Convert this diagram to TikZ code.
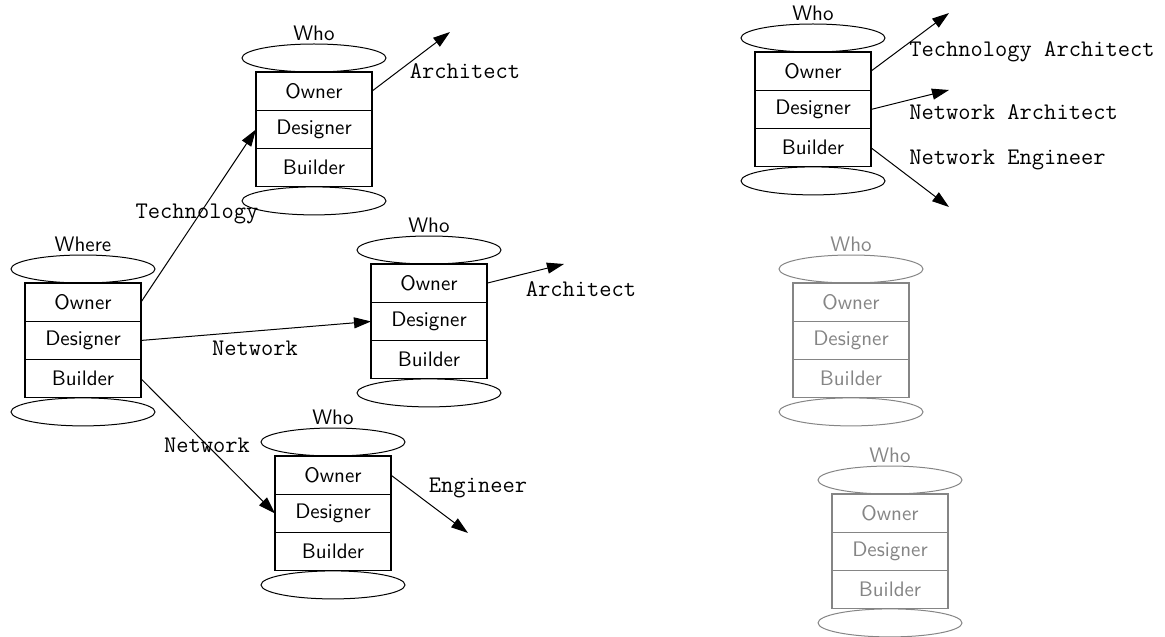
\documentclass[tikz,border=0pt]{standalone}
\usetikzlibrary{arrows.meta,shapes.geometric}
\definecolor{fade}{gray}{0.52}
\newcommand\mkstack[5]{%
  \node[row, draw=#5, text=#5, anchor=north west] (#1o) at (#2,#3) {Owner};
  \node[row, draw=#5, text=#5, anchor=north] (#1d) at (#1o.south) {Designer};
  \node[row, draw=#5, text=#5, anchor=north] (#1b) at (#1d.south) {Builder};
  \node[lid, draw=#5, anchor=south] (#1t) at (#1o.north) {};
  \node[lid, draw=#5, anchor=north] (#1u) at (#1b.south) {};
  \node[hdr, text=#5, anchor=south] (#1l) at (#1t.north) {#4};
}
\begin{document}
\begin{tikzpicture}[x=0.5pt,y=-0.5pt,
  row/.style={draw, line width=0.55pt, outer sep=0pt, minimum width=58pt, minimum height=19.15pt, inner sep=0pt, font=\fontsize{10.5}{12}\sffamily},
  lid/.style={draw, ellipse, line width=0.5pt, outer sep=0pt, minimum width=72pt, minimum height=14pt, inner sep=0pt},
  hdr/.style={inner sep=1.5pt, font=\fontsize{10.5}{12}\sffamily},
  tt/.style={inner sep=0pt, font=\fontsize{11.9}{14}\ttfamily},
  arr/.style={line width=0.5pt, -{Triangle[length=8.5pt,width=5.5pt]}}]
\useasboundingbox (0,0) rectangle (1165,636);
\mkstack{A}{25}{283}{Where}{black}
\mkstack{B}{256}{72}{Who}{black}
\mkstack{C}{371}{264}{Who}{black}
\mkstack{D}{275}{456}{Who}{black}
\mkstack{E}{755}{52}{Who}{black}
\mkstack{F}{793}{283}{Who}{fade}
\mkstack{G}{832}{494}{Who}{fade}
% connectors from Where
\draw[arr] (Ao.east) -- (Bd.west);
\draw[arr] (Ad.east) -- (Cd.west);
\draw[arr] (Ab.east) -- (Dd.west);
\node[tt] (l1) at (197,214) {Technology};
\node[tt] (l2) at (255,348) {Network};
\node[tt] (l3) at (207,445) {Network};
% outgoing arrows
\coordinate (tB) at (450,32);
\coordinate (tC) at (564,264);
\coordinate (tD) at (468,533);
\draw[arr] (Bo.east) -- (tB);
\draw[arr] (Co.east) -- (tC);
\draw[arr] (Do.east) -- (tD);
\node[tt] (l4) at (465,71) {Architect};
\node[tt] (l5) at (581,289) {Architect};
\node[tt] (l6) at (478,488) {Engineer};
\coordinate (tE1) at (949,13);
\coordinate (tE2) at (949,90);
\coordinate (tE3) at (949,207);
\draw[arr] (Eo.east) -- (tE1);
\draw[arr] (Ed.east) -- (tE2);
\draw[arr] (Eb.east) -- (tE3);
\node[tt, anchor=west] (l7) at (909,52) {Technology Architect};
\node[tt, anchor=west] (l8) at (909,112) {Network Architect};
\node[tt, anchor=west] (l9) at (909,160) {Network Engineer};
\end{tikzpicture}
\end{document}
